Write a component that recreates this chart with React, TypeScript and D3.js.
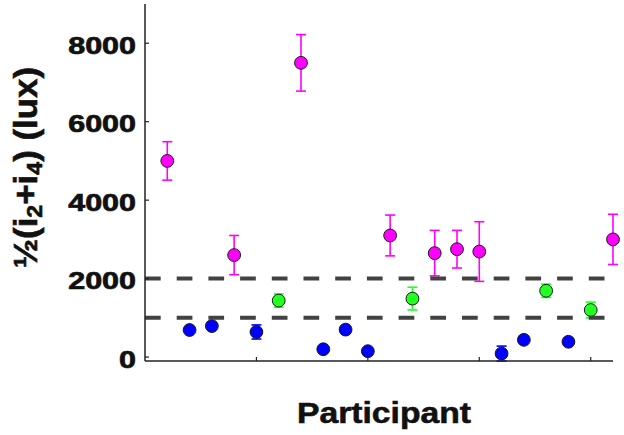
import React from "react";
import * as d3 from "d3";

const participants = [1, 2, 3, 4, 5, 6, 7, 8, 9, 10, 11, 12, 13, 14, 15, 16, 17, 18, 19, 20, 21];
const meanLux = [5000, 690, 790, 2600, 640, 1440, 7500, 200, 700, 150, 3100, 1490, 2650, 2750, 2690, 90, 440, 1690, 390, 1200, 3000];
const errLux = [490, 40, 60, 500, 180, 170, 720, 40, 40, 40, 520, 290, 580, 480, 760, 190, 60, 170, 40, 200, 640];
const groups = ["high", "low", "low", "high", "low", "mid", "high", "low", "low", "low", "high", "mid", "high", "high", "high", "low", "low", "mid", "low", "mid", "high"];
const yTicks = [0, 2000, 4000, 6000, 8000];
const xTicks = [5, 10, 15, 20];
const thresholds = [1000, 2000];
const groupColors: Record<string, string> = { high: "#ff00ff", mid: "#22ff22", low: "#0000ff" };

const W = 624;
const H = 435;
const FONT = "'Liberation Sans', Arial, Helvetica, sans-serif";

export default function App() {
  const x = d3.scaleLinear().domain([0, 21]).range([145, 613]);
  const y = d3.scaleLinear().domain([-100, 9000]).range([361, 4]);
  const axisColor = "#222";
  const cap = 5;

  return (
    <svg width={W} height={H} style={{ position: "absolute", left: 0, top: 0, background: "#fff" }}>
      {/* error bars */}
      {participants.map((p, i) => {
        const c = groupColors[groups[i]];
        const cx = x(p);
        const y1 = y(meanLux[i] + errLux[i]);
        const y0 = y(meanLux[i] - errLux[i]);
        return (
          <g key={"e" + i} stroke={c} strokeWidth={1.6}>
            <line x1={cx} x2={cx} y1={y1} y2={y0} />
            <line x1={cx - cap} x2={cx + cap} y1={y1} y2={y1} />
            <line x1={cx - cap} x2={cx + cap} y1={y0} y2={y0} />
          </g>
        );
      })}
      {/* points */}
      {participants.map((p, i) => (
        <circle
          key={"c" + i}
          cx={x(p)}
          cy={y(meanLux[i])}
          r={6.4}
          fill={groupColors[groups[i]]}
          stroke="#1a1a1a"
          strokeWidth={1}
        />
      ))}
      {/* threshold dashed lines */}
      {thresholds.map((t) => (
        <line
          key={"t" + t}
          x1={x(0)}
          x2={x(21)}
          y1={y(t)}
          y2={y(t)}
          stroke="#424242"
          strokeWidth={4}
          strokeDasharray="15.7 16"
        />
      ))}
      {/* axes */}
      <line x1={145} x2={145} y1={y(9000)} y2={y(-100)} stroke={axisColor} strokeWidth={1.5} />
      <line x1={145} x2={x(21)} y1={y(-100)} y2={y(-100)} stroke={axisColor} strokeWidth={1.5} />
      {yTicks.map((t) => (
        <g key={"yt" + t}>
          <line x1={145} x2={149} y1={y(t)} y2={y(t)} stroke={axisColor} strokeWidth={1.2} />
          <text
            transform={`translate(136,${y(t) + 10.5}) scale(1.27,1)`}
            textAnchor="end"
            fontFamily={FONT}
            fontWeight="bold"
            fontSize={24}
            fill="#111"
            stroke="#111"
            strokeWidth={0.7}
          >
            {t}
          </text>
        </g>
      ))}
      {xTicks.map((t) => (
        <line key={"xt" + t} x1={x(t)} x2={x(t)} y1={y(-100)} y2={y(-100) - 4} stroke={axisColor} strokeWidth={1.2} />
      ))}
      {/* axis titles */}
      <text
        x={384}
        y={422.5}
        textAnchor="middle"
        fontFamily={FONT}
        fontWeight="bold"
        fontSize={30}
        fill="#111"
        stroke="#111"
        strokeWidth={0.6}
        textLength={174}
        lengthAdjust="spacingAndGlyphs"
      >
        Participant
      </text>
      <text
        transform="translate(37,167.5) rotate(-90)"
        textAnchor="middle"
        fontFamily={FONT}
        fontWeight="bold"
        fontSize={33}
        fill="#111"
        stroke="#111"
        strokeWidth={0.6}
        textLength={201}
        lengthAdjust="spacingAndGlyphs"
      >
        ½(i<tspan fontSize={22} dy={5}>2</tspan><tspan dy={-5}>+i</tspan><tspan fontSize={22} dy={5}>4</tspan><tspan dy={-5}>) (lux)</tspan>
      </text>
    </svg>
  );
}
